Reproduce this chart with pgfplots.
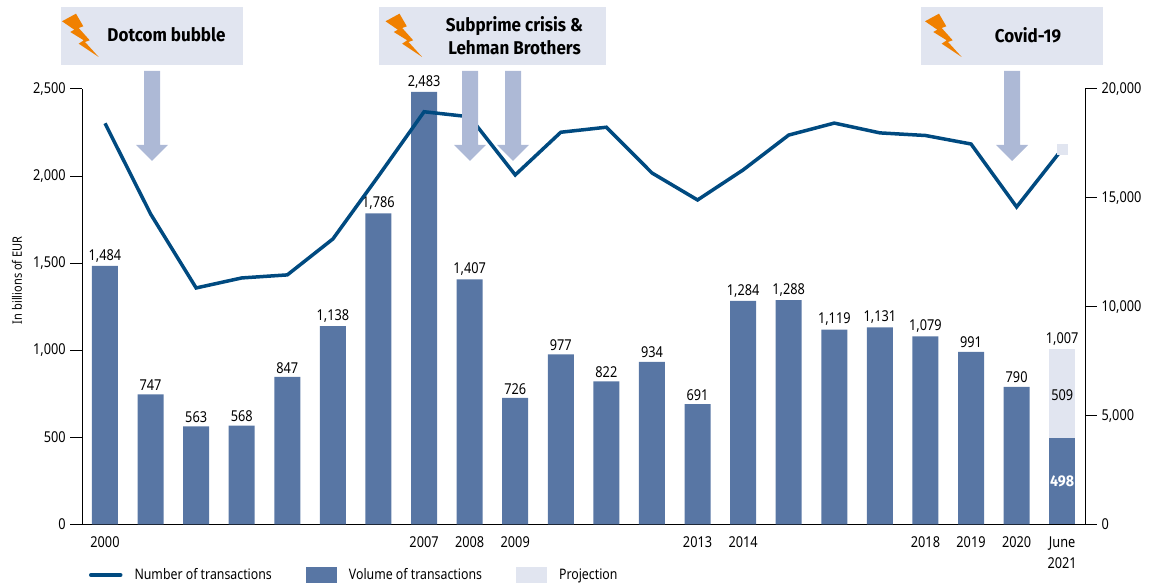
\documentclass[border=0pt]{standalone}
\usepackage{fontspec}
\setmainfont[FakeStretch=0.85]{Noto Sans}
\newfontfamily\bannerfont[FakeStretch=0.92]{Fira Sans}
\usepackage{pgfplots}
\usepackage{pgfplotstable}
\pgfplotsset{compat=1.18}

\definecolor{volumeblue}{HTML}{5876A4}
\definecolor{lineblue}{HTML}{004A80}
\definecolor{projection}{HTML}{E1E5F0}
\definecolor{arrowblue}{HTML}{ADB9D6}
\definecolor{boltorange}{HTML}{F08000}

% yearly volume, billions of EUR
\pgfplotstableread{
pos vol
0  1484
1  747
2  563
3  568
4  847
5  1138
6  1786
7  2483
8  1407
9  726
10 977
11 822
12 934
13 691
14 1284
15 1288
16 1119
17 1131
18 1079
19 991
20 790
}\volumedata

% number of transactions per year
\pgfplotstableread{
pos num
0  18420
1  14260
2  10860
3  11320
4  11460
5  13110
6  16000
7  18950
8  18720
9  16050
10 18010
11 18240
12 16140
13 14900
14 16280
15 17880
16 18430
17 17980
18 17860
19 17470
20 14580
21 17240
}\transactiondata

\newcommand{\chartfont}{\fontsize{15}{18}\selectfont}

% lightning bolt, drawn from the left edge of its banner
\newcommand{\bolt}[1]{%
  \fill[boltorange,shift={(#1,0)}] (1,21.3) -- (15,13.7) -- (22.3,26.3) -- (17.7,28) -- (28.7,40.3)
    -- (24,42) -- (37.7,57) -- (17.7,43.7) -- (22.7,40.3) -- (9.3,32) -- (13.3,29.7) -- cycle;}
% down arrow below a banner
\newcommand{\crisisarrow}[1]{%
  \fill[arrowblue] (#1-8,71) -- (#1+8,71) -- (#1+8,145) -- (#1+16,145) -- (#1,161)
    -- (#1-16,145) -- (#1-8,145) -- cycle;}

\begin{document}
\begin{tikzpicture}[x=1pt,y=1pt]
\path[use as bounding box] (0,0) rectangle (1157,585);

% bars: volume of transactions; 2021 has the full-year projection behind the June figure
\begin{axis}[
  at={(82.2pt,60.5pt)}, anchor=south west,
  scale only axis, width=1002.8pt, height=435.6pt,
  xmin=-0.5, xmax=21.5, ymin=0, ymax=2500,
  axis x line=bottom, axis y line=left,
  axis line style={-,black,line width=0.9pt},
  ytick={0,500,1000,1500,2000,2500},
  xtick={0,7,8,9,13,14,18,19,20,21},
  xticklabels={2000,2007,2008,2009,2013,2014,2018,2019,2020,{June\\2021}},
  xticklabel style={align=center,font=\fontsize{15}{21}\selectfont,anchor=north,yshift=3pt},
  x tick style={draw=none},
  y tick style={black,line width=0.9pt},
  tick align=outside, major tick length=12pt,
  yticklabel style={font=\chartfont,xshift=-1pt},
  scaled y ticks=false,
  /pgf/number format/.cd, 1000 sep={,}, assume math mode=true,
  /pgfplots/.cd,
  ylabel={In billions of EUR},
  ylabel style={font=\fontsize{13}{15}\selectfont},
  every axis y label/.append style={at={(axis description cs:-0.065,0.561)},anchor=center},
  ybar, bar width=26pt, bar shift=0pt,
  nodes near coords,
  nodes near coords style={font=\chartfont,black,anchor=south,inner sep=3.5pt},
  legend columns=3, legend cell align=left,
  legend style={at={(axis description cs:0,0)},anchor=west,xshift=6.8pt,yshift=-50.5pt,
    draw=none,fill=none,inner sep=0pt,outer sep=0pt,font=\fontsize{14.5}{17}\selectfont,
    /tikz/every odd column/.style={column sep=10pt},
    /tikz/every even column/.style={column sep=32pt},
    /tikz/column 4/.style={column sep=34pt}},
  clip=false,
]
\addlegendimage{legend image code/.code={\draw[lineblue,line width=3.5pt,line cap=round] (1.5pt,0) -- (31.5pt,0);}}
\addplot[fill=volumeblue,draw=none,
  legend image code/.code={\fill[volumeblue] (0,-8pt) rectangle (31pt,8pt);},
] table[x=pos,y=vol] {\volumedata};
\addplot[fill=projection,draw=none,
  legend image code/.code={\fill[projection] (0,-8pt) rectangle (31pt,8pt);},
] coordinates {(21,1007)};
\addplot[fill=volumeblue,draw=none,forget plot,
  nodes near coords style={font=\bannerfont\bfseries\fontsize{15.5}{18}\selectfont,white,anchor=center,yshift=-44pt},
] coordinates {(21,498)};
\legend{Number of transactions,Volume of transactions,Projection}
\node[font=\chartfont,anchor=center] at (axis cs:21,740) {509};
\end{axis}

% line: number of transactions
\begin{axis}[
  at={(82.2pt,60.5pt)}, anchor=south west,
  scale only axis, width=1002.8pt, height=435.6pt,
  xmin=-0.5, xmax=21.5, ymin=0, ymax=20000,
  axis x line=none, axis y line=right,
  axis line style={-,black,line width=0.9pt},
  ytick={0,5000,10000,15000,20000},
  y tick style={black,line width=0.9pt},
  tick align=outside, major tick length=12pt,
  yticklabel style={font=\chartfont,xshift=1pt},
  scaled y ticks=false,
  /pgf/number format/.cd, 1000 sep={,}, assume math mode=true,
  /pgfplots/.cd,
  clip=false,
]
\addplot[lineblue,line width=3.5pt,line join=miter,no markers] table[x=pos,y=num] {\transactiondata};
\addplot[only marks,mark=square*,mark size=5pt,mark options={fill=projection,draw=projection}] coordinates {(21,17240)};
\end{axis}

% banners and arrows for the three crises
\begin{scope}[x=1pt,y=-1pt,shift={(0pt,585pt)}]
  \fill[projection] (61,7) rectangle (243,65);
  \fill[projection] (379,7) rectangle (606,65);
  \fill[projection] (921,7) rectangle (1103,65);
  \bolt{61} \bolt{384.5} \bolt{924}
  \node[font=\bannerfont\bfseries\fontsize{18.5}{22}\selectfont] at (166.5,35) {Dotcom bubble};
  \node[font=\bannerfont\bfseries\fontsize{18.5}{23}\selectfont,align=center] at (514.5,35.5) {Subprime crisis \&\\Lehman Brothers};
  \node[font=\bannerfont\bfseries\fontsize{18.5}{22}\selectfont] at (1028,35) {Covid-19};
  \crisisarrow{152} \crisisarrow{470} \crisisarrow{513} \crisisarrow{1012}
\end{scope}
\end{tikzpicture}
\end{document}
